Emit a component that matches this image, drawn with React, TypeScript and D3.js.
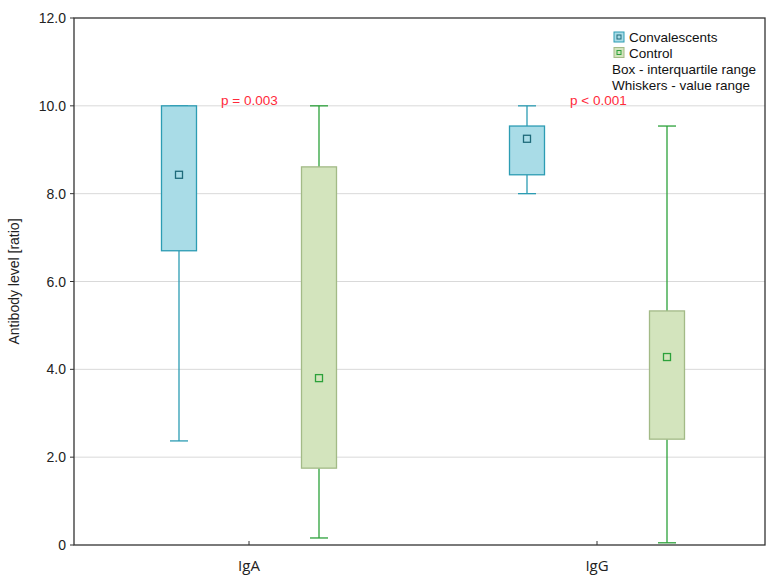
import React from "react";
import * as d3 from "d3";

const groups = ["IgA", "IgG"];
const seriesNames = ["Convalescents", "Control"];
// [min, q1, median, q3, max] per group, per series
const convalescents = [
  [2.37, 6.7, 8.43, 10.0, 10.0],
  [8.0, 8.43, 9.25, 9.54, 10.0],
];
const control = [
  [0.16, 1.75, 3.8, 8.61, 10.0],
  [0.05, 2.41, 4.28, 5.33, 9.54],
];
const pValues = ["p = 0.003", "p < 0.001"];
const yTicks = [0, 2, 4, 6, 8, 10, 12];
const legendNotes = ["Box - interquartile range", "Whiskers - value range"];

const W = 778, H = 583;
const L = 74, R = 765, T = 18, B = 545;

const styles = [
  { fill: "#a9dce7", stroke: "#2c9cb3", whisker: "#2c9cb3", marker: "#1e6a7a" },
  { fill: "#d3e4bd", stroke: "#a3ba87", whisker: "#2ca13a", marker: "#2ca13a" },
];

export default function App() {
  const y = d3.scaleLinear().domain([0, 12]).range([B, T]);
  const x = d3.scalePoint().domain(groups).range([L + 1, R + 6]).padding(0.5);
  const off = 70;
  const bw = 35;
  const data = [convalescents, control];
  const font = "'Liberation Sans', Arial, sans-serif";

  return (
    <svg width={W} height={H} style={{ position: "absolute", left: 0, top: 0, background: "#fff" }}>
      {yTicks.filter((t) => t > 0 && t < 12).map((t) => (
        <line key={t} x1={L} x2={R} y1={y(t)} y2={y(t)} stroke="#d9d9d9" strokeWidth={1} />
      ))}
      {yTicks.map((t) => (
        <g key={"yt" + t}>
          <line x1={L - 4} x2={L} y1={y(t)} y2={y(t)} stroke="#333" />
          <text x={L - 8} y={y(t) + 5} textAnchor="end" fontFamily={font} fontSize={14} fill="#222">
            {t === 0 ? "0" : d3.format(".1f")(t)}
          </text>
        </g>
      ))}
      <text
        transform={`translate(19,${(T + B) / 2}) rotate(-90)`}
        textAnchor="middle"
        fontFamily={font}
        fontSize={14}
        fill="#222"
      >
        Antibody level [ratio]
      </text>
      {groups.map((g) => (
        <g key={g}>
          <line x1={x(g)!} x2={x(g)!} y1={B} y2={B - 4} stroke="#333" />
          <text x={x(g)!} y={B + 26} textAnchor="middle" fontFamily="'Open Sans', sans-serif" fontSize={15} fill="#222">
            {g}
          </text>
        </g>
      ))}
      {data.map((series, si) =>
        series.map((d, gi) => {
          const cx = x(groups[gi])! + (si === 0 ? -off : off);
          const s = styles[si];
          const [mn, q1, med, q3, mx] = d;
          return (
            <g key={si + "-" + gi}>
              <line x1={cx} x2={cx} y1={y(mx)} y2={y(q3)} stroke={s.whisker} strokeWidth={1.3} />
              <line x1={cx} x2={cx} y1={y(q1)} y2={y(mn)} stroke={s.whisker} strokeWidth={1.3} />
              <line x1={cx - 9} x2={cx + 9} y1={y(mx)} y2={y(mx)} stroke={s.whisker} strokeWidth={1.3} />
              <line x1={cx - 9} x2={cx + 9} y1={y(mn)} y2={y(mn)} stroke={s.whisker} strokeWidth={1.3} />
              <rect x={cx - bw / 2} y={y(q3)} width={bw} height={y(q1) - y(q3)} fill={s.fill} stroke={s.stroke} strokeWidth={1.3} />
              <rect x={cx - 3.5} y={y(med) - 3.5} width={7} height={7} fill="none" stroke={s.marker} strokeWidth={1.3} />
            </g>
          );
        })
      )}
      {groups.map((g, i) => (
        <text key={"p" + g} x={x(g)! + (i === 0 ? -28 : -27)} y={y(10) - 1} fontFamily={font} fontSize={13.5} fill="#ff2a3a">
          {pValues[i]}
        </text>
      ))}
      {seriesNames.map((n, i) => (
        <g key={n}>
          <rect x={614} y={32 + i * 15.5} width={10} height={10} fill={styles[i].fill} stroke={styles[i].stroke} />
          <rect x={617} y={35 + i * 15.5} width={4} height={4} fill="none" stroke={styles[i].marker} strokeWidth={1} />
          <text x={629} y={42 + i * 15.5} fontFamily={font} fontSize={13.5} fill="#111">{n}</text>
        </g>
      ))}
      {legendNotes.map((n, i) => (
        <text key={n} x={612} y={74 + i * 16} fontFamily={font} fontSize={13.5} fill="#111">{n}</text>
      ))}
      <rect x={L} y={T} width={R - L} height={B - T} fill="none" stroke="#333" strokeWidth={1.3} />
    </svg>
  );
}
